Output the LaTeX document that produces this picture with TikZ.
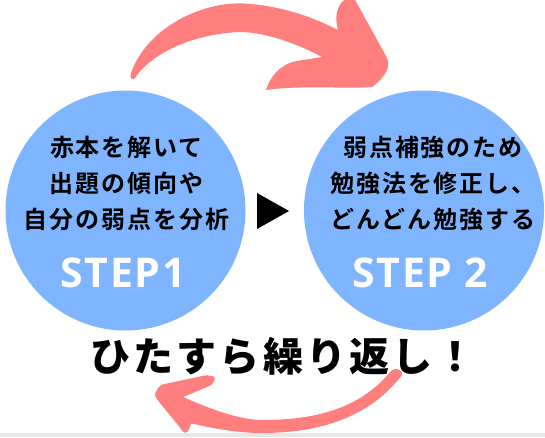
\documentclass[tikz,border=0pt]{standalone}
\usepackage{fontspec}
\newfontfamily\cyjp{Noto Sans CJK JP}[LetterSpace=8, BoldFont={Noto Sans CJK JP Bold}]
\newfontfamily\cyjpheavy{Noto Sans CJK JP Black}[LetterSpace=8]
\newfontfamily\cylat{Open Sans}[LetterSpace=4]
\usetikzlibrary{calc}
\definecolor{cyBlue}{HTML}{7FB5FF}
\definecolor{cyPink}{HTML}{FF7F7F}
\definecolor{cyInk}{HTML}{000000}
\definecolor{cyStrip}{HTML}{E4E8E8}
\tikzset{
  cystep/.style={
    circle, fill=cyBlue, minimum size=240pt, inner sep=0pt,
  },
  cytext/.style={
    text=cyInk, align=center, inner sep=0pt,
    font=\cyjp\bfseries\fontsize{24}{36}\selectfont,
  },
  cylabel/.style={
    text=white, anchor=base, inner sep=0pt,
    font=\cylat\bfseries\fontsize{41}{41}\selectfont,
  },
  cyloop/.style={fill=cyPink},
}
\begin{document}
\begin{tikzpicture}[x=1pt, y=1pt]
\useasboundingbox (0,0) rectangle (545,437);
\fill[white] (0,0) rectangle (545,437);
\fill[cyStrip] (0,0) rectangle (545,4);
\clip (0,0) rectangle (545,437);

% Loop arrows -------------------------------------------------------------
% top: from STEP1 over to STEP 2
\fill[cyloop] (131,364) .. controls (147,410) and (205,438) .. (250,433)
  .. controls (285,430) and (315,419) .. (338,407)
  .. controls (333,425) and (340,438) .. (350,439) -- (354,439)
  -- (386,381) .. controls (391,372) and (388,362) .. (372,350)
  .. controls (345,348) and (300,352) .. (266,347)
  .. controls (270,360) and (280,373) .. (297,376) -- (322,380)
  .. controls (290,397) and (260,405) .. (240,405)
  .. controls (190,403) and (150,382) .. (135,359)
  .. controls (133,356) and (129,359) .. cycle;
% bottom: from STEP 2 back under to STEP1
\fill[cyloop] (190,14) .. controls (215,8) and (240,4) .. (262,4)
  .. controls (320,4) and (370,20) .. (402,62)
  .. controls (404,66) and (396,71) .. (391,66)
  .. controls (360,28) and (315,17) .. (262,17)
  .. controls (240,17) and (210,28) .. (183,40)
  [rounded corners=3pt] -- (212,52) -- (216,60) -- (207,62) -- (160,52)
  -- (154,42) -- (160,34) -- (178,12) -- (185,3) -- (190,8) -- cycle;

% Steps -------------------------------------------------------------------
\node[cystep] (s1) at (125.5,226.5) {};
\node[cystep] (s2) at (424,226.5) {};

\node[cytext] (s1text) at ($(s1.center)+(1,27)$)
  {赤本を解いて\\出題の傾向や\\自分の弱点を分析};
\node[cytext] (s2text) at ($(s2.center)+(9,27)$)
  {弱点補強のため\\勉強法を修正し、\\どんどん勉強する};

\node[cylabel] (s1label) at ($(s1.center)+(-2.5,-76.5)$) {STEP1};
\node[cylabel] (s2label) at ($(s2.center)+(-3.5,-76.5)$) {STEP 2};

% Flow --------------------------------------------------------------------
\fill[cyInk] (257,244) -- (289,226) -- (257,208) -- cycle;

\node[cytext, font=\cyjpheavy\fontsize{40}{40}\selectfont] (again)
  at (283,80.5) {ひたすら繰り返し！};

\end{tikzpicture}
\end{document}
